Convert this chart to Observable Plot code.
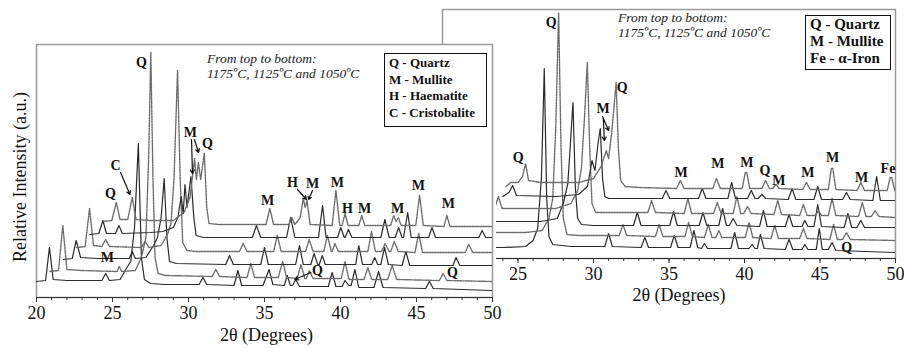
<!DOCTYPE html>
<html><head><meta charset="utf-8">
<script src="https://cdn.jsdelivr.net/npm/d3@7"></script>
<script src="https://cdn.jsdelivr.net/npm/@observablehq/plot@0.6"></script>
<style>
body{margin:0;background:#fff;}
#wrap{position:relative;width:904px;height:348px;overflow:hidden;background:#fff;font-family:"Liberation Serif","Tinos","DejaVu Serif","Noto Serif",serif;}
#wrap svg, #wrap svg text{font-family:"Liberation Serif","Tinos","DejaVu Serif","Noto Serif",serif !important;}
.abs{position:absolute;}
.legend{border:1.5px solid #111;font-weight:bold;font-size:13px;line-height:16.5px;padding:1px 4px;box-sizing:border-box;color:#111;background:#fff;white-space:nowrap}
.legend.big{font-size:15px;line-height:17px;padding:0 4px}
.note{font-style:italic;font-size:13.5px;line-height:15px;color:#222;white-space:nowrap}
</style></head>
<body>
<div id="wrap">
 <div id="right" class="abs" style="left:0;top:0"></div>
 <div id="cover" class="abs" style="left:0;top:44px;width:496px;height:304px;background:#fff"></div>
 <div id="left" class="abs" style="left:0;top:0"></div>
 <div class="abs note" style="left:207px;top:51px">From top to bottom:<br>1175ºC, 1125ºC and 1050ºC</div>
 <div class="abs legend" style="left:384px;top:53px;width:103px;height:74px">Q - Quartz<br>M - Mullite<br>H - Haematite<br>C - Cristobalite</div>
 <div class="abs note" style="left:618px;top:10px">From top to bottom:<br>1175ºC, 1125ºC and 1050ºC</div>
 <div class="abs legend big" style="left:805px;top:15px;width:86px;height:55px">Q - Quartz<br>M - Mullite<br>Fe - α-Iron</div>
</div>
<script>
// ---------- tick values ----------
const majorTicks = [20, 25, 30, 35, 40, 45, 50];
const rightMajorTicks = [25, 30, 35, 40, 45, 50];
const minorTicks = [20,21,22,23,24,25,26,27,28,29,30,31,32,33,34,35,36,37,38,39,40,41,42,43,44,45,46,47,48,49,50];

// ---------- left panel traces: [2θ, intensity (a.u.)] pairs, bottom (L0) to top (L5) ----------
const L0 = [20.0,16, 20.6,17, 20.85,50, 21.1,18, 22.0,17, 24.3,17, 24.55,24, 24.8,17, 25.5,18, 25.95,30, 26.2,36, 26.45,70, 26.7,154, 26.9,40, 27.1,18, 27.5,14, 28.5,13, 30.7,13, 30.95,20, 31.2,13, 33.0,12, 33.25,27, 33.5,12, 34.9,12, 35.3,28, 35.55,13, 36.3,12, 36.5,22, 36.7,12, 36.85,12, 37.05,18, 37.3,11, 38.0,11, 39.2,11, 39.45,25, 39.7,11, 40.1,11, 40.3,17, 40.55,12, 40.7,12, 40.95,28, 41.2,10, 42.2,10, 42.5,26, 42.8,10, 45.6,9, 45.85,16, 46.1,9, 50,7];
const L1 = [20.88,26, 21.45,27, 21.73,72, 22.0,28, 23.0,27, 25.3,26, 25.45,31, 25.6,26, 26.5,27, 26.9,40, 27.2,60, 27.38,140, 27.52,245, 27.66,120, 27.8,40, 28.0,24, 28.5,22, 31.55,21, 31.8,28, 32.05,21, 33.85,20, 34.1,34, 34.35,20, 35.9,20, 36.2,36, 36.45,20, 37.15,19, 37.4,33, 37.65,19, 37.75,19, 37.95,27, 38.2,19, 40.05,19, 40.3,36, 40.55,18, 41.55,18, 41.8,30, 42.05,18, 43.1,18, 43.4,32, 43.7,18, 46.5,17, 46.75,24, 47.0,17, 50,16];
const L2 = [21.76,38, 22.35,39, 22.61,57, 22.9,40, 24.0,39, 26.1,39, 26.3,46, 26.5,39, 27.2,40, 27.7,52, 27.96,60, 28.2,80, 28.4,119, 28.58,60, 28.75,36, 29.2,34, 32.45,33, 32.7,42, 32.95,33, 34.75,33, 35.0,50, 35.25,33, 37.05,33, 37.3,52, 37.55,33, 38.05,33, 38.26,44, 38.5,33, 38.6,33, 38.8,42, 39.0,33, 41.0,33, 41.2,52, 41.45,33, 42.05,33, 42.25,40, 42.45,33, 42.65,33, 42.9,50, 43.15,33, 44.05,32, 44.3,46, 44.55,32, 47.4,32, 47.6,40, 47.85,32, 50,32];
const L3 = [22.64,50, 23.2,51, 23.49,89, 23.75,52, 24.3,51, 24.55,58, 24.8,51, 26.9,50, 27.14,56, 27.4,50, 28.2,52, 28.64,64, 28.85,74, 29.05,120, 29.28,227, 29.45,120, 29.62,55, 29.9,47, 30.5,46, 33.35,46, 33.6,54, 33.85,46, 35.6,46, 35.84,62, 36.1,46, 37.7,46, 37.94,58, 38.2,46, 38.9,46, 39.14,62, 39.4,46, 39.45,46, 39.64,54, 39.85,46, 41.8,46, 42.04,66, 42.3,46, 42.7,46, 42.94,54, 43.2,46, 43.3,46, 43.54,56, 43.8,46, 44.9,45, 45.14,64, 45.4,45, 48.2,45, 48.44,53, 48.7,45, 50,45];
const L4 = [23.52,63, 24.1,64, 24.37,77, 24.6,64, 25.2,64, 25.42,72, 25.65,64, 27.5,65, 28.3,66, 29.0,70, 29.3,80, 29.52,101, 29.65,84, 29.77,113, 29.9,90, 30.16,121, 30.35,80, 30.5,62, 31.0,60, 34.2,60, 34.47,72, 34.75,60, 36.45,60, 36.72,80, 37.0,60, 38.55,60, 38.82,92, 39.05,60, 39.8,60, 40.02,70, 40.25,60, 40.3,60, 40.52,68, 40.75,60, 42.65,60, 42.92,78, 43.2,60, 43.6,60, 43.82,70, 44.05,60, 44.15,60, 44.42,85, 44.65,60, 45.8,60, 46.02,70, 46.25,60, 49.1,60, 49.32,67, 49.55,60, 50,60];
const L5 = [24.4,76, 24.95,77, 25.25,95, 25.5,78, 26.0,78, 26.3,100, 26.55,78, 27.5,77, 29.0,77, 29.7,85, 30.1,100, 30.4,139, 30.52,118, 30.65,135, 30.8,118, 31.04,144, 31.2,90, 31.35,74, 32.0,73, 35.1,73, 35.35,89, 35.6,73, 36.6,73, 36.8,80, 37.0,73, 37.35,80, 37.55,99, 37.68,90, 37.8,97, 38.0,73, 39.45,72, 39.7,107, 39.95,72, 40.1,72, 40.3,84, 40.5,72, 41.2,72, 41.4,82, 41.6,72, 43.3,72, 43.5,82, 43.65,76, 43.8,80, 44.0,72, 44.95,72, 45.2,102, 45.45,72, 46.8,71, 47.0,82, 47.2,71, 50,71];

// ---------- right panel traces ----------
const R0 = [20.0,10, 20.6,11, 20.85,30, 21.1,11, 24.0,11, 25.5,12, 26.0,18, 26.3,30, 26.55,80, 26.74,190, 26.9,60, 27.05,22, 27.3,14, 28.5,12, 30.75,12, 31.0,25, 31.25,12, 33.15,11, 33.4,21, 33.65,11, 35.1,11, 35.35,23, 35.6,11, 36.4,11, 36.65,28, 36.9,11, 37.15,10, 37.35,15, 37.55,10, 39.1,10, 39.35,26, 39.6,10, 40.3,10, 40.5,14, 40.7,10, 40.85,10, 41.05,24, 41.3,10, 42.7,9, 42.95,19, 43.2,9, 43.8,9, 44.0,14, 44.2,9, 44.75,9, 44.95,30, 45.15,9, 45.55,9, 45.8,16, 46.05,8, 50,6];
const R1 = [20.95,25, 21.55,26, 21.8,45, 22.05,26, 25.5,26, 26.6,28, 27.05,40, 27.3,60, 27.5,130, 27.69,246, 27.85,110, 28.0,40, 28.25,24, 29.0,23, 31.7,23, 31.95,34, 32.2,23, 34.1,22, 34.35,34, 34.6,22, 36.05,22, 36.3,36, 36.55,22, 37.35,21, 37.6,34, 37.85,21, 38.1,21, 38.3,28, 38.5,21, 40.05,21, 40.3,36, 40.55,21, 41.75,20, 42.0,33, 42.25,20, 43.65,20, 43.9,30, 44.15,20, 45.65,19, 45.9,34, 46.15,19, 46.5,19, 46.75,26, 47.0,19, 50,18];
const R2 = [21.9,36, 22.5,37, 22.75,52, 23.0,37, 26.5,37, 27.6,40, 28.0,55, 28.3,75, 28.45,110, 28.64,156, 28.8,70, 28.95,40, 29.2,34, 30.0,33, 32.65,33, 32.9,46, 33.15,33, 35.05,33, 35.3,47, 35.55,33, 37.0,33, 37.25,46, 37.5,33, 38.3,33, 38.55,50, 38.8,33, 39.0,33, 39.25,40, 39.5,33, 41.0,32, 41.25,48, 41.5,32, 42.7,32, 42.95,44, 43.2,32, 43.8,32, 44.0,38, 44.2,32, 44.6,32, 44.85,54, 45.1,32, 46.6,31, 46.85,45, 47.1,31, 47.45,31, 47.7,38, 47.95,31, 50,31];
const R3 = [22.85,49, 23.45,50, 23.7,62, 23.95,50, 27.5,50, 28.5,55, 28.95,68, 29.2,90, 29.4,140, 29.59,196, 29.75,110, 29.9,55, 30.15,46, 31.0,46, 33.6,46, 33.85,58, 34.1,46, 36.0,45, 36.25,60, 36.5,45, 37.95,45, 38.2,56, 38.45,45, 39.25,45, 39.5,62, 39.75,45, 39.95,45, 40.2,52, 40.45,45, 41.95,44, 42.2,58, 42.45,44, 43.65,43, 43.9,54, 44.15,43, 44.7,43, 44.9,48, 45.1,43, 45.55,43, 45.8,60, 46.05,43, 47.55,42, 47.8,56, 48.05,42, 48.4,42, 48.65,48, 48.9,42, 50,41];
const R4 = [24.0,62, 24.4,66, 24.65,73, 24.9,63, 27.5,62, 29.0,64, 29.6,72, 29.9,98, 30.1,88, 30.3,115, 30.45,130, 30.6,80, 30.75,62, 31.0,60, 34.55,60, 34.8,68, 35.05,60, 36.95,60, 37.2,70, 37.45,60, 38.9,60, 39.15,76, 39.4,60, 40.2,60, 40.45,68, 40.7,60, 40.9,60, 41.15,64, 41.4,60, 42.9,59, 43.15,70, 43.4,59, 44.6,59, 44.85,72, 45.1,59, 46.5,59, 46.75,66, 47.0,59, 48.5,58, 48.75,82, 49.0,58, 50,58];
const R5 = [24.2,72, 24.5,76, 25.0,76, 25.3,82, 25.5,95, 25.7,78, 26.5,76, 29.0,76, 30.0,80, 30.5,92, 30.85,108, 31.0,100, 31.2,125, 31.35,150, 31.5,176, 31.65,110, 31.8,78, 32.1,72, 33.0,71, 35.5,70, 35.75,78, 36.0,70, 37.9,70, 38.15,80, 38.4,70, 39.85,70, 40.05,86, 40.15,86, 40.35,70, 41.15,70, 41.4,78, 41.65,70, 41.85,70, 42.1,74, 42.3,70, 43.85,69, 44.1,76, 44.35,69, 45.55,69, 45.75,90, 45.85,90, 46.05,69, 47.45,68, 47.7,76, 47.95,68, 49.45,68, 49.65,81, 49.75,81, 49.95,68, 50,68];

// ---------- peak labels and arrows ----------
const leftLabelText = ["Q","C","Q","M","Q","M","M","H","M","M","H","M","M","M","M","Q","Q"];
const leftLabelX = [26.9,25.2,24.87,30.13,31.25,24.67,35.2,36.84,38.16,39.8,40.46,41.58,43.75,45.13,47.1,38.49,47.37];
const leftLabelY = [235,132,104,165,154,40,97,115,114,115,89,89,89,112,94,27,25];
const leftArrowX1 = [25.53,30.2,30.39,37.17,38.16,38.05];
const leftArrowY1 = [125,158,158,108,107,25];
const leftArrowX2 = [26.15,30.26,30.66,37.76,37.9,37.0];
const leftArrowY2 = [103,124,145,98,98,18];

const rightLabelText = ["Q","Q","M","Q","M","M","M","Q","M","M","M","M","Fe","Q"];
const rightLabelX = [27.2,25.02,30.64,31.9,35.8,38.24,40.16,41.35,42.27,44.19,45.84,47.76,49.5,46.77];
const rightLabelY = [236,101,150,171,86,95,96,88,78,86,101,81,90,11];
const rightArrowX1 = [30.6,30.65];
const rightArrowY1 = [142,140];
const rightArrowX2 = [31.0,30.72];
const rightArrowY2 = [128,118];

const axisTitle = "2θ (Degrees)";
const yTitle = "Relative Intensity (a.u.)";

// ---------- helpers ----------
function pairs(flat) {
  const out = [];
  for (let i = 0; i < flat.length; i += 2) out.push({x: flat[i], y: flat[i + 1]});
  return out;
}
function zipLabels(xs, ys, ts) { return xs.map((x, i) => ({x, y: ys[i], t: ts[i]})); }
function zipArrows(x1, y1, x2, y2) { return x1.map((x, i) => ({x1: x, y1: y1[i], x2: x2[i], y2: y2[i]})); }

const FONT = "'Liberation Serif', Tinos, 'DejaVu Serif', 'Noto Serif', serif";

function traceMarks(traces) {
  return traces.map((t, i) => Plot.line(pairs(t), {
    x: "x", y: "y", clip: true,
    stroke: i % 2 ? "#6b6b6b" : "#2a2a2a",
    strokeWidth: i % 2 ? 1.4 : 1.2,
    strokeDasharray: i % 2 ? "1.6,1.1" : null
  }));
}

function axisMarks(labelTicks) {
  return [
    Plot.frame({stroke: "#9a9a9a", strokeWidth: 1.5}),
    Plot.ruleY([0], {stroke: "#333", strokeWidth: 1.2}),
    Plot.axisX({ticks: minorTicks, tickSize: 3, tickFormat: () => "", label: null, stroke: "#333"}),
    Plot.axisX({ticks: labelTicks, tickSize: 5, tickPadding: 4, tickFormat: d => String(d), label: null, stroke: "#333", fill: "#111", fontFamily: FONT, fontSize: 18})
  ];
}

const baseStyle = {fontFamily: FONT, fontSize: "18px", background: "transparent", color: "#111", overflow: "visible"};

// ---------- right panel (drawn first, underneath) ----------
const rightPlot = Plot.plot({
  width: 904, height: 348,
  marginLeft: 442, marginRight: 9, marginTop: 9, marginBottom: 90,
  x: {domain: [20, 50]},
  y: {domain: [0, 249], axis: null},
  style: baseStyle,
  marks: [
    ...axisMarks(rightMajorTicks),
    ...traceMarks([R0, R1, R2, R3, R4, R5]),
    Plot.text(zipLabels(rightLabelX, rightLabelY, rightLabelText), {x: "x", y: "y", text: "t", fontWeight: "bold", fontSize: 14, fontFamily: FONT, fill: "#111"}),
    Plot.arrow(zipArrows(rightArrowX1, rightArrowY1, rightArrowX2, rightArrowY2), {x1: "x1", y1: "y1", x2: "x2", y2: "y2", headLength: 5, stroke: "#111", strokeWidth: 1.2}),
    Plot.text([axisTitle], {text: d => d, frameAnchor: "bottom", textAnchor: "middle", dx: 10, dy: 42, fontSize: 18, fontFamily: FONT, fill: "#111"})
  ]
});
document.getElementById("right").appendChild(rightPlot);

// ---------- left panel (on top) ----------
const leftPlot = Plot.plot({
  width: 500, height: 348,
  marginLeft: 36, marginRight: 8, marginTop: 44, marginBottom: 51,
  x: {domain: [20, 50]},
  y: {domain: [0, 253], axis: null},
  style: baseStyle,
  marks: [
    ...axisMarks(majorTicks),
    ...traceMarks([L0, L1, L2, L3, L4, L5]),
    Plot.text(zipLabels(leftLabelX, leftLabelY, leftLabelText), {x: "x", y: "y", text: "t", fontWeight: "bold", fontSize: 14, fontFamily: FONT, fill: "#111"}),
    Plot.arrow(zipArrows(leftArrowX1, leftArrowY1, leftArrowX2, leftArrowY2), {x1: "x1", y1: "y1", x2: "x2", y2: "y2", headLength: 5, stroke: "#111", strokeWidth: 1.2}),
    Plot.text([axisTitle], {text: d => d, frameAnchor: "bottom", textAnchor: "middle", dx: 2, dy: 43, fontSize: 18, fontFamily: FONT, fill: "#111"}),
    Plot.text([yTitle], {text: d => d, frameAnchor: "left", textAnchor: "middle", rotate: -90, dx: -16, dy: 6, fontSize: 18, fontFamily: FONT, fill: "#111"})
  ]
});
document.getElementById("left").appendChild(leftPlot);
</script>
</body></html>
